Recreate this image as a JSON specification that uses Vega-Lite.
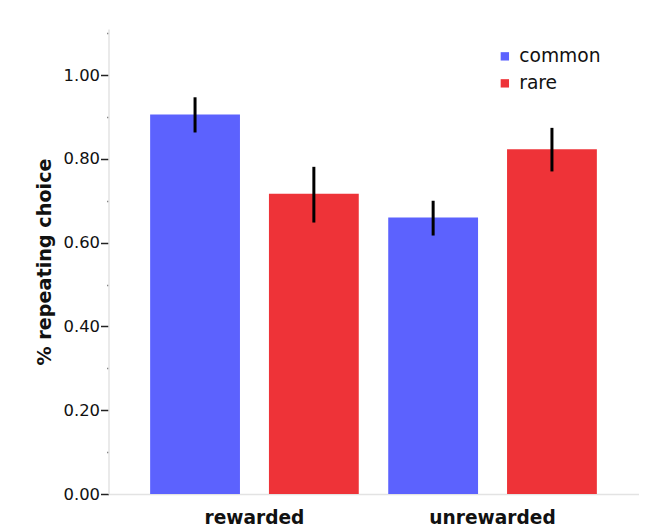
{
  "$schema": "https://vega.github.io/schema/vega-lite/v6.json",
  "width": 530,
  "height": 465,
  "autosize": {"type": "none"},
  "padding": {"left": 108.5, "top": 29, "right": 17.5, "bottom": 34},
  "background": "white",
  "config": {
    "view": {"stroke": null},
    "font": "DejaVu Sans"
  },
  "data": {
    "values": [
      {"condition": "rewarded", "transition": "common", "value": 0.906, "lo": 0.863, "hi": 0.947},
      {"condition": "rewarded", "transition": "rare", "value": 0.717, "lo": 0.648, "hi": 0.781},
      {"condition": "unrewarded", "transition": "common", "value": 0.660, "lo": 0.617, "hi": 0.700},
      {"condition": "unrewarded", "transition": "rare", "value": 0.823, "lo": 0.770, "hi": 0.874}
    ]
  },
  "encoding": {
    "x": {
      "field": "condition",
      "type": "nominal",
      "scale": {"paddingInner": 0, "paddingOuter": 0.113},
      "axis": {
        "title": null,
        "ticks": false,
        "labelAngle": 0,
        "labelFontSize": 18.6,
        "labelFontWeight": "bold",
        "labelColor": "#111111",
        "labelPadding": 14,
        "domainColor": "#e3e3e3",
        "domainWidth": 1.5
      }
    },
    "xOffset": {
      "field": "transition",
      "type": "nominal",
      "scale": {"paddingInner": 0.244, "paddingOuter": 0.124}
    }
  },
  "layer": [
    {
      "mark": {"type": "bar"},
      "encoding": {
        "y": {
          "field": "value",
          "type": "quantitative",
          "scale": {"domain": [0, 1.11], "nice": false},
          "axis": {
            "title": "% repeating choice",
            "titleFontSize": 19.2,
            "titleFontWeight": "bold",
            "titleColor": "#111111",
            "titlePadding": 9,
            "values": [0, 0.1, 0.2, 0.3, 0.4, 0.5, 0.6, 0.7, 0.8, 0.9, 1.0, 1.1],
            "format": ".2f",
            "labelExpr": "round(datum.value * 10) % 2 == 0 ? datum.label : ''",
            "labelFontSize": 16.4,
            "labelColor": "#111111",
            "labelPadding": 1,
            "tickSize": {"condition": {"test": "round(datum.value * 10) % 2 == 0", "value": 8}, "value": 2},
            "tickColor": {"condition": {"test": "round(datum.value * 10) % 2 == 0", "value": "#222222"}, "value": "#888888"},
            "tickWidth": 1.5,
            "domainColor": "#e3e3e3",
            "domainWidth": 1.5,
            "grid": false
          }
        },
        "color": {
          "field": "transition",
          "type": "nominal",
          "scale": {"domain": ["common", "rare"], "range": ["#5c62fe", "#ee3338"]},
          "legend": {
            "title": null,
            "orient": "none",
            "legendX": 387,
            "legendY": 18,
            "padding": 0,
            "symbolType": "square",
            "symbolSize": 70,
            "symbolStrokeWidth": 0,
            "labelFontSize": 18.7,
            "labelColor": "#111111",
            "labelOffset": 5,
            "rowPadding": 7,
            "labelFont": "DejaVu Sans"
          }
        }
      }
    },
    {
      "mark": {"type": "rule", "color": "black", "strokeWidth": 3},
      "encoding": {
        "y": {"field": "lo", "type": "quantitative"},
        "y2": {"field": "hi"}
      }
    }
  ]
}
